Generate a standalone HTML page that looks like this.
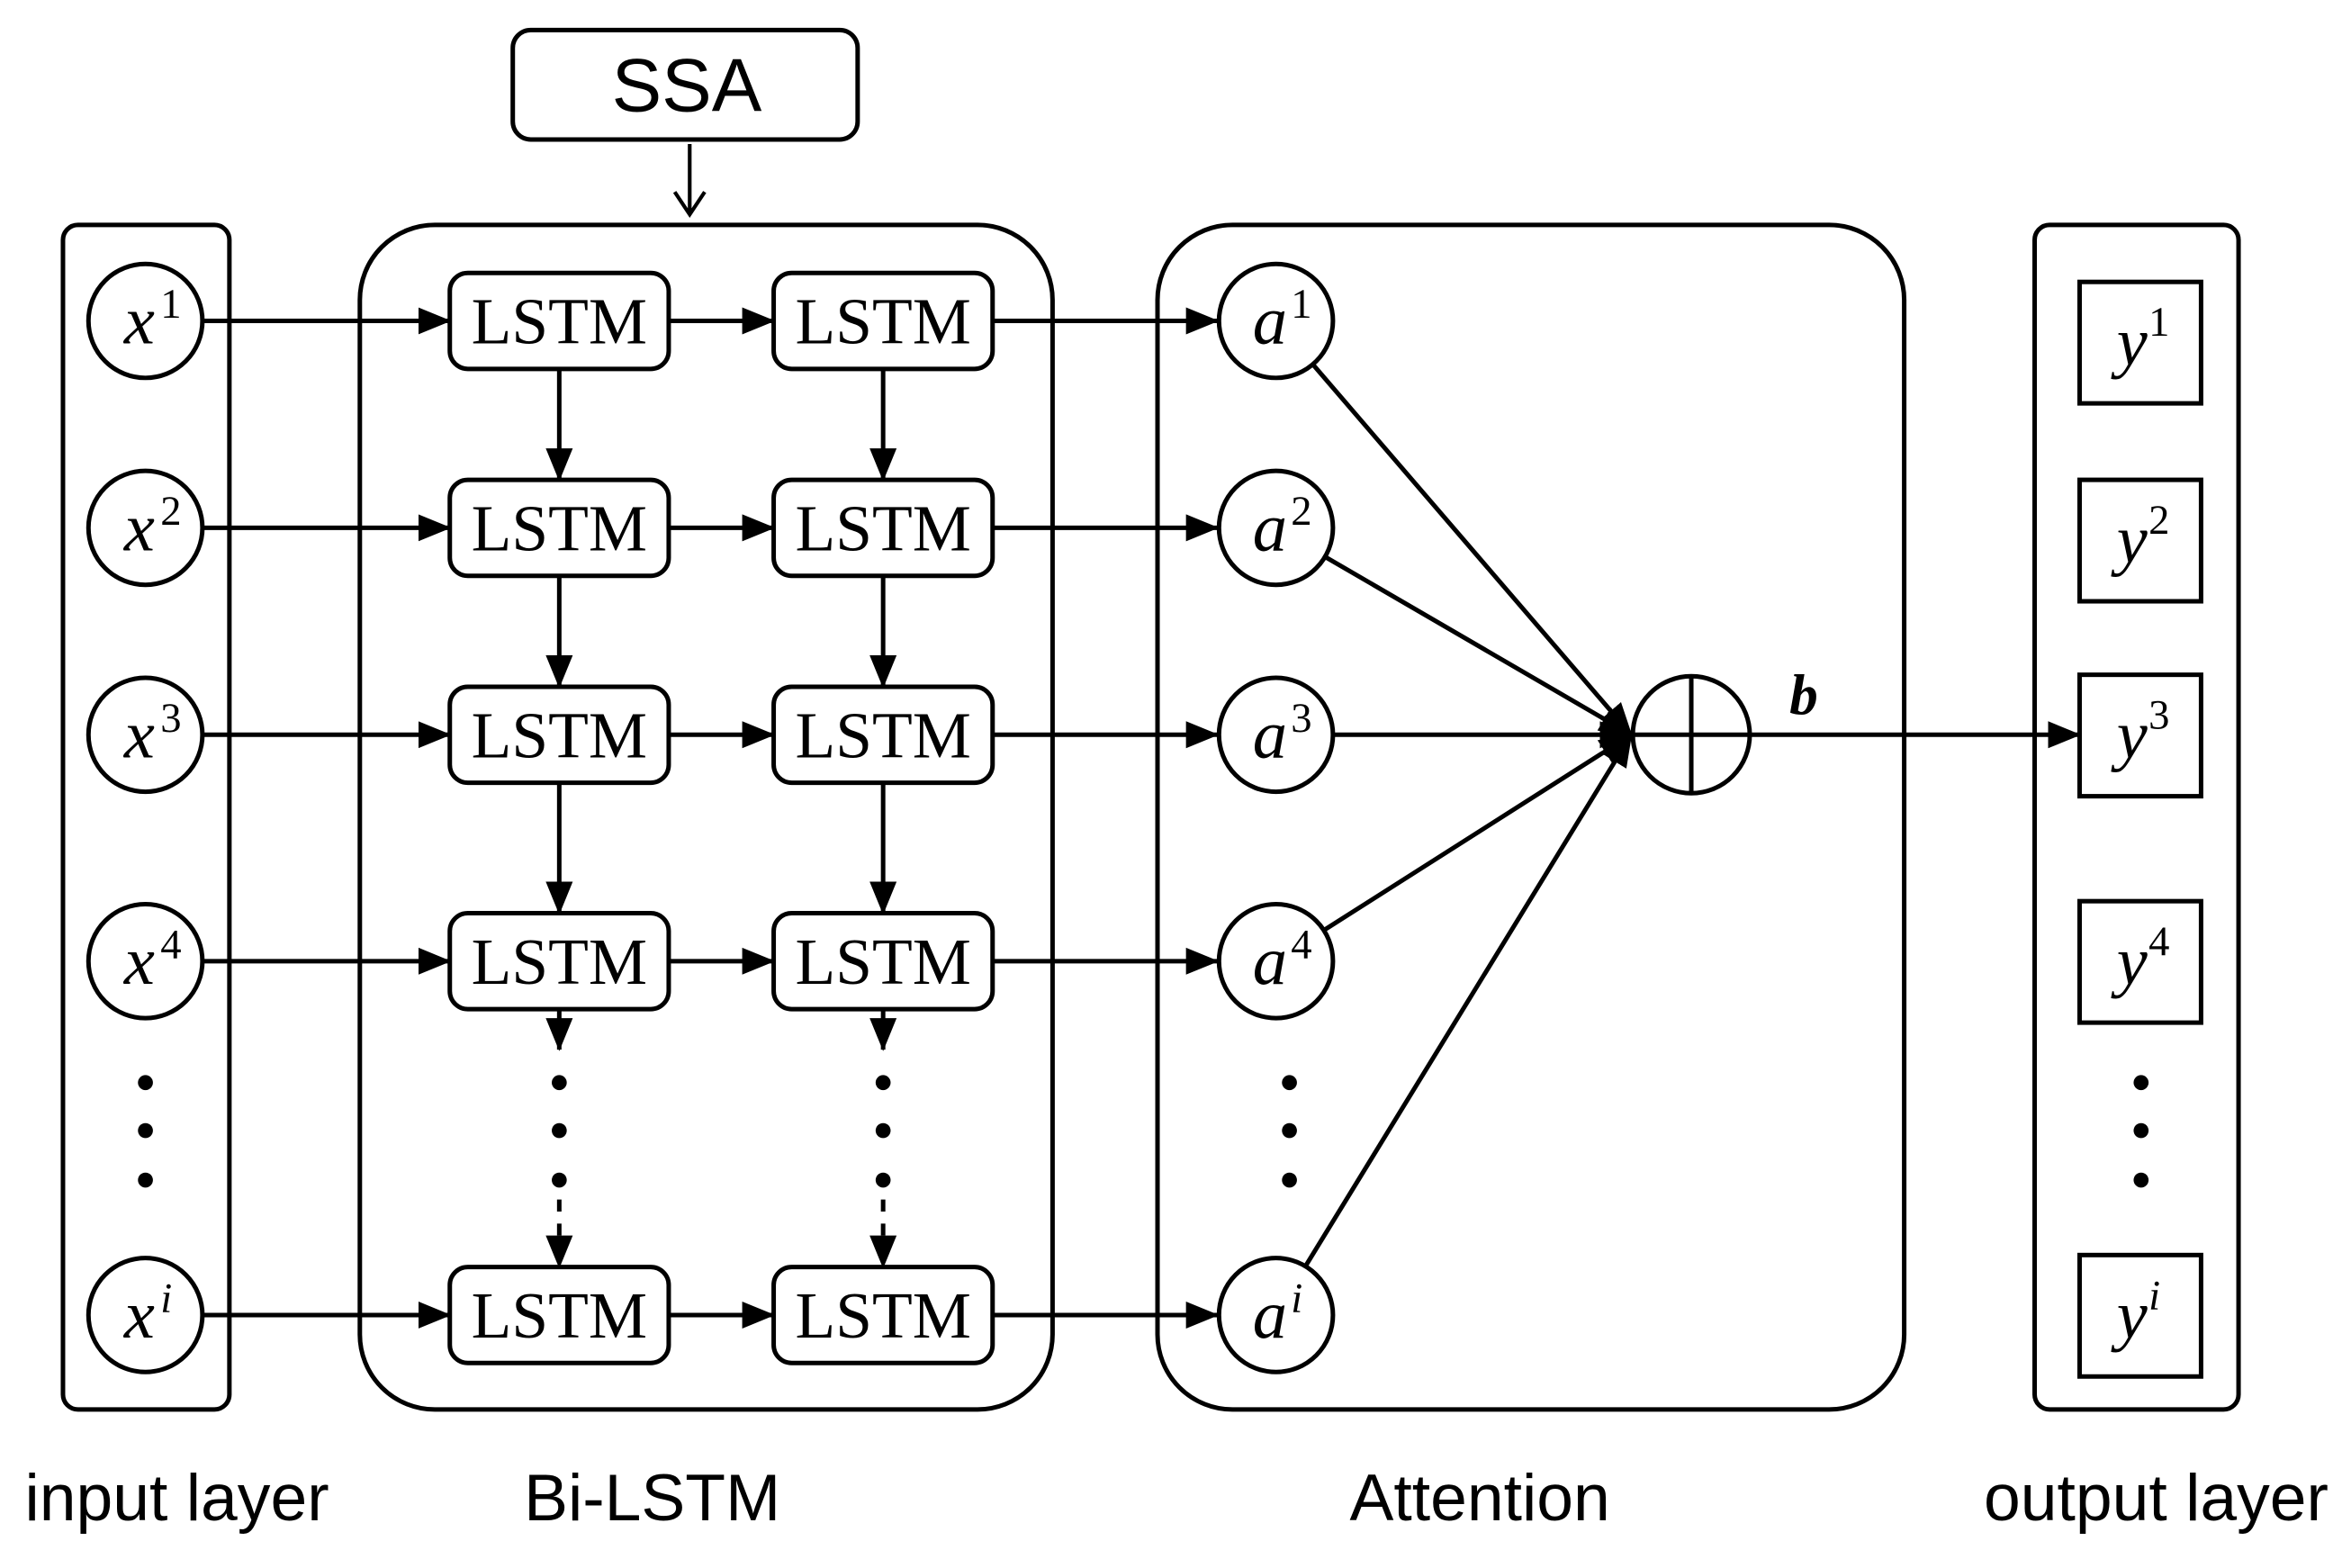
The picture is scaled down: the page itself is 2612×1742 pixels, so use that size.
<!DOCTYPE html>
<html><head><meta charset="utf-8"><style>
html,body{margin:0;padding:0;background:#fff;}
svg{display:block;}
.s{font-family:"Liberation Serif",serif;}
.a{font-family:"Liberation Sans",sans-serif;}
</style></head><body>
<svg width="2612" height="1742" viewBox="0 0 1568 1045.7" xmlns="http://www.w3.org/2000/svg">
<defs>
<marker id="ar2" markerWidth="22" markerHeight="22" refX="21" refY="11" orient="auto" markerUnits="userSpaceOnUse" viewBox="0 0 22 22">
<path d="M0,2 L22,11 L0,20 z" fill="#000"/></marker>
</defs>
<g fill="none" stroke="#000" stroke-width="3">
<rect x="342" y="20" width="230" height="73" rx="12"/>
<rect x="42" y="150" width="111" height="790" rx="10"/>
<rect x="240" y="150" width="462" height="790" rx="50"/>
<rect x="772" y="150" width="498" height="790" rx="50"/>
<rect x="1357" y="150" width="136" height="790" rx="10"/>
</g>
<path d="M460,96 V143 M450,128 L460,143 L470,128" fill="none" stroke="#000" stroke-width="2.5"/>
<text x="458" y="74" class="a" font-size="50" text-anchor="middle">SSA</text>
<script>
var rows=[214,352,490,641,877];
var sup=["1","2","3","4","i"];
var ys=[228,360,490,641,877];
var ns="http://www.w3.org/2000/svg";
var svg=document.querySelector("svg");
function el(t,a,txt){var e=document.createElementNS(ns,t);for(var k in a)e.setAttribute(k,a[k]);if(txt!==undefined)e.textContent=txt;svg.appendChild(e);return e;}
rows.forEach(function(y,i){
 el("circle",{cx:97,cy:y,r:38,fill:"none",stroke:"#000","stroke-width":3});
 el("text",{x:93,y:y+15,"class":"s","font-size":46,"font-style":"italic","text-anchor":"middle"},"x");
 el("text",{x:107,y:y-2,"class":"s","font-size":28,"font-style":i==4?"italic":"normal"},sup[i]);
 el("line",{x1:135,y1:y,x2:300,y2:y,stroke:"#000","stroke-width":3,"marker-end":"url(#ar2)"});
 [[300,373],[516,589]].forEach(function(c){
  el("rect",{x:c[0],y:y-32,width:146,height:64,rx:12,fill:"#fff",stroke:"#000","stroke-width":3});
  el("text",{x:c[1],y:y+15,"class":"s","font-size":44,"text-anchor":"middle"},"LSTM");
 });
 el("line",{x1:446,y1:y,x2:516,y2:y,stroke:"#000","stroke-width":3,"marker-end":"url(#ar2)"});
 el("line",{x1:662,y1:y,x2:812,y2:y,stroke:"#000","stroke-width":3,"marker-end":"url(#ar2)"});
 el("circle",{cx:851,cy:y,r:38,fill:"none",stroke:"#000","stroke-width":3});
 el("text",{x:847,y:y+15,"class":"s","font-size":46,"font-style":"italic","text-anchor":"middle"},"a");
 el("text",{x:861,y:y-2,"class":"s","font-size":28,"font-style":i==4?"italic":"normal"},sup[i]);
 var ang=Math.atan2(490-y,1085-851);
 var sx=851+38*Math.cos(ang), sy=y+38*Math.sin(ang);
 el("line",{x1:sx,y1:sy,x2:1088,y2:490,stroke:"#000","stroke-width":3,"marker-end":"url(#ar2)"});
 var yy=ys[i];
 el("rect",{x:1387,y:yy-40,width:81,height:81,fill:"none",stroke:"#000","stroke-width":3});
 el("text",{x:1422,y:yy+15,"class":"s","font-size":46,"font-style":"italic","text-anchor":"middle"},"y");
 el("text",{x:1433,y:yy-4,"class":"s","font-size":28,"font-style":i==4?"italic":"normal"},sup[i]);
});
[373,589].forEach(function(x){
 for(var i=0;i<3;i++) el("line",{x1:x,y1:rows[i]+32,x2:x,y2:rows[i+1]-32,stroke:"#000","stroke-width":3,"marker-end":"url(#ar2)"});
 el("line",{x1:x,y1:673,x2:x,y2:700,stroke:"#000","stroke-width":3,"marker-end":"url(#ar2)"});
 [722,754,787].forEach(function(d){el("circle",{cx:x,cy:d,r:5,fill:"#000"});});
 el("line",{x1:x,y1:800,x2:x,y2:845,stroke:"#000","stroke-width":3,"stroke-dasharray":"8 8","marker-end":"url(#ar2)"});
});
[97,860,1428].forEach(function(x){[722,754,787].forEach(function(d){el("circle",{cx:x,cy:d,r:5,fill:"#000"});});});
el("circle",{cx:1128,cy:490,r:39,fill:"#fff",stroke:"#000","stroke-width":3});
el("line",{x1:1089,y1:490,x2:1167,y2:490,stroke:"#000","stroke-width":3});
el("line",{x1:1128,y1:451,x2:1128,y2:529,stroke:"#000","stroke-width":3});
el("line",{x1:1167,y1:490,x2:1387,y2:490,stroke:"#000","stroke-width":3,"marker-end":"url(#ar2)"});
el("text",{x:1203,y:476,"class":"s","font-size":38,"font-style":"italic","font-weight":"bold","text-anchor":"middle"},"b");
[["input layer",118],["Bi-LSTM",435],["Attention",987],["output layer",1438]].forEach(function(l){
 el("text",{x:l[1],y:1014,"class":"a","font-size":44,"text-anchor":"middle"},l[0]);
});
</script>
</svg>
</body></html>
